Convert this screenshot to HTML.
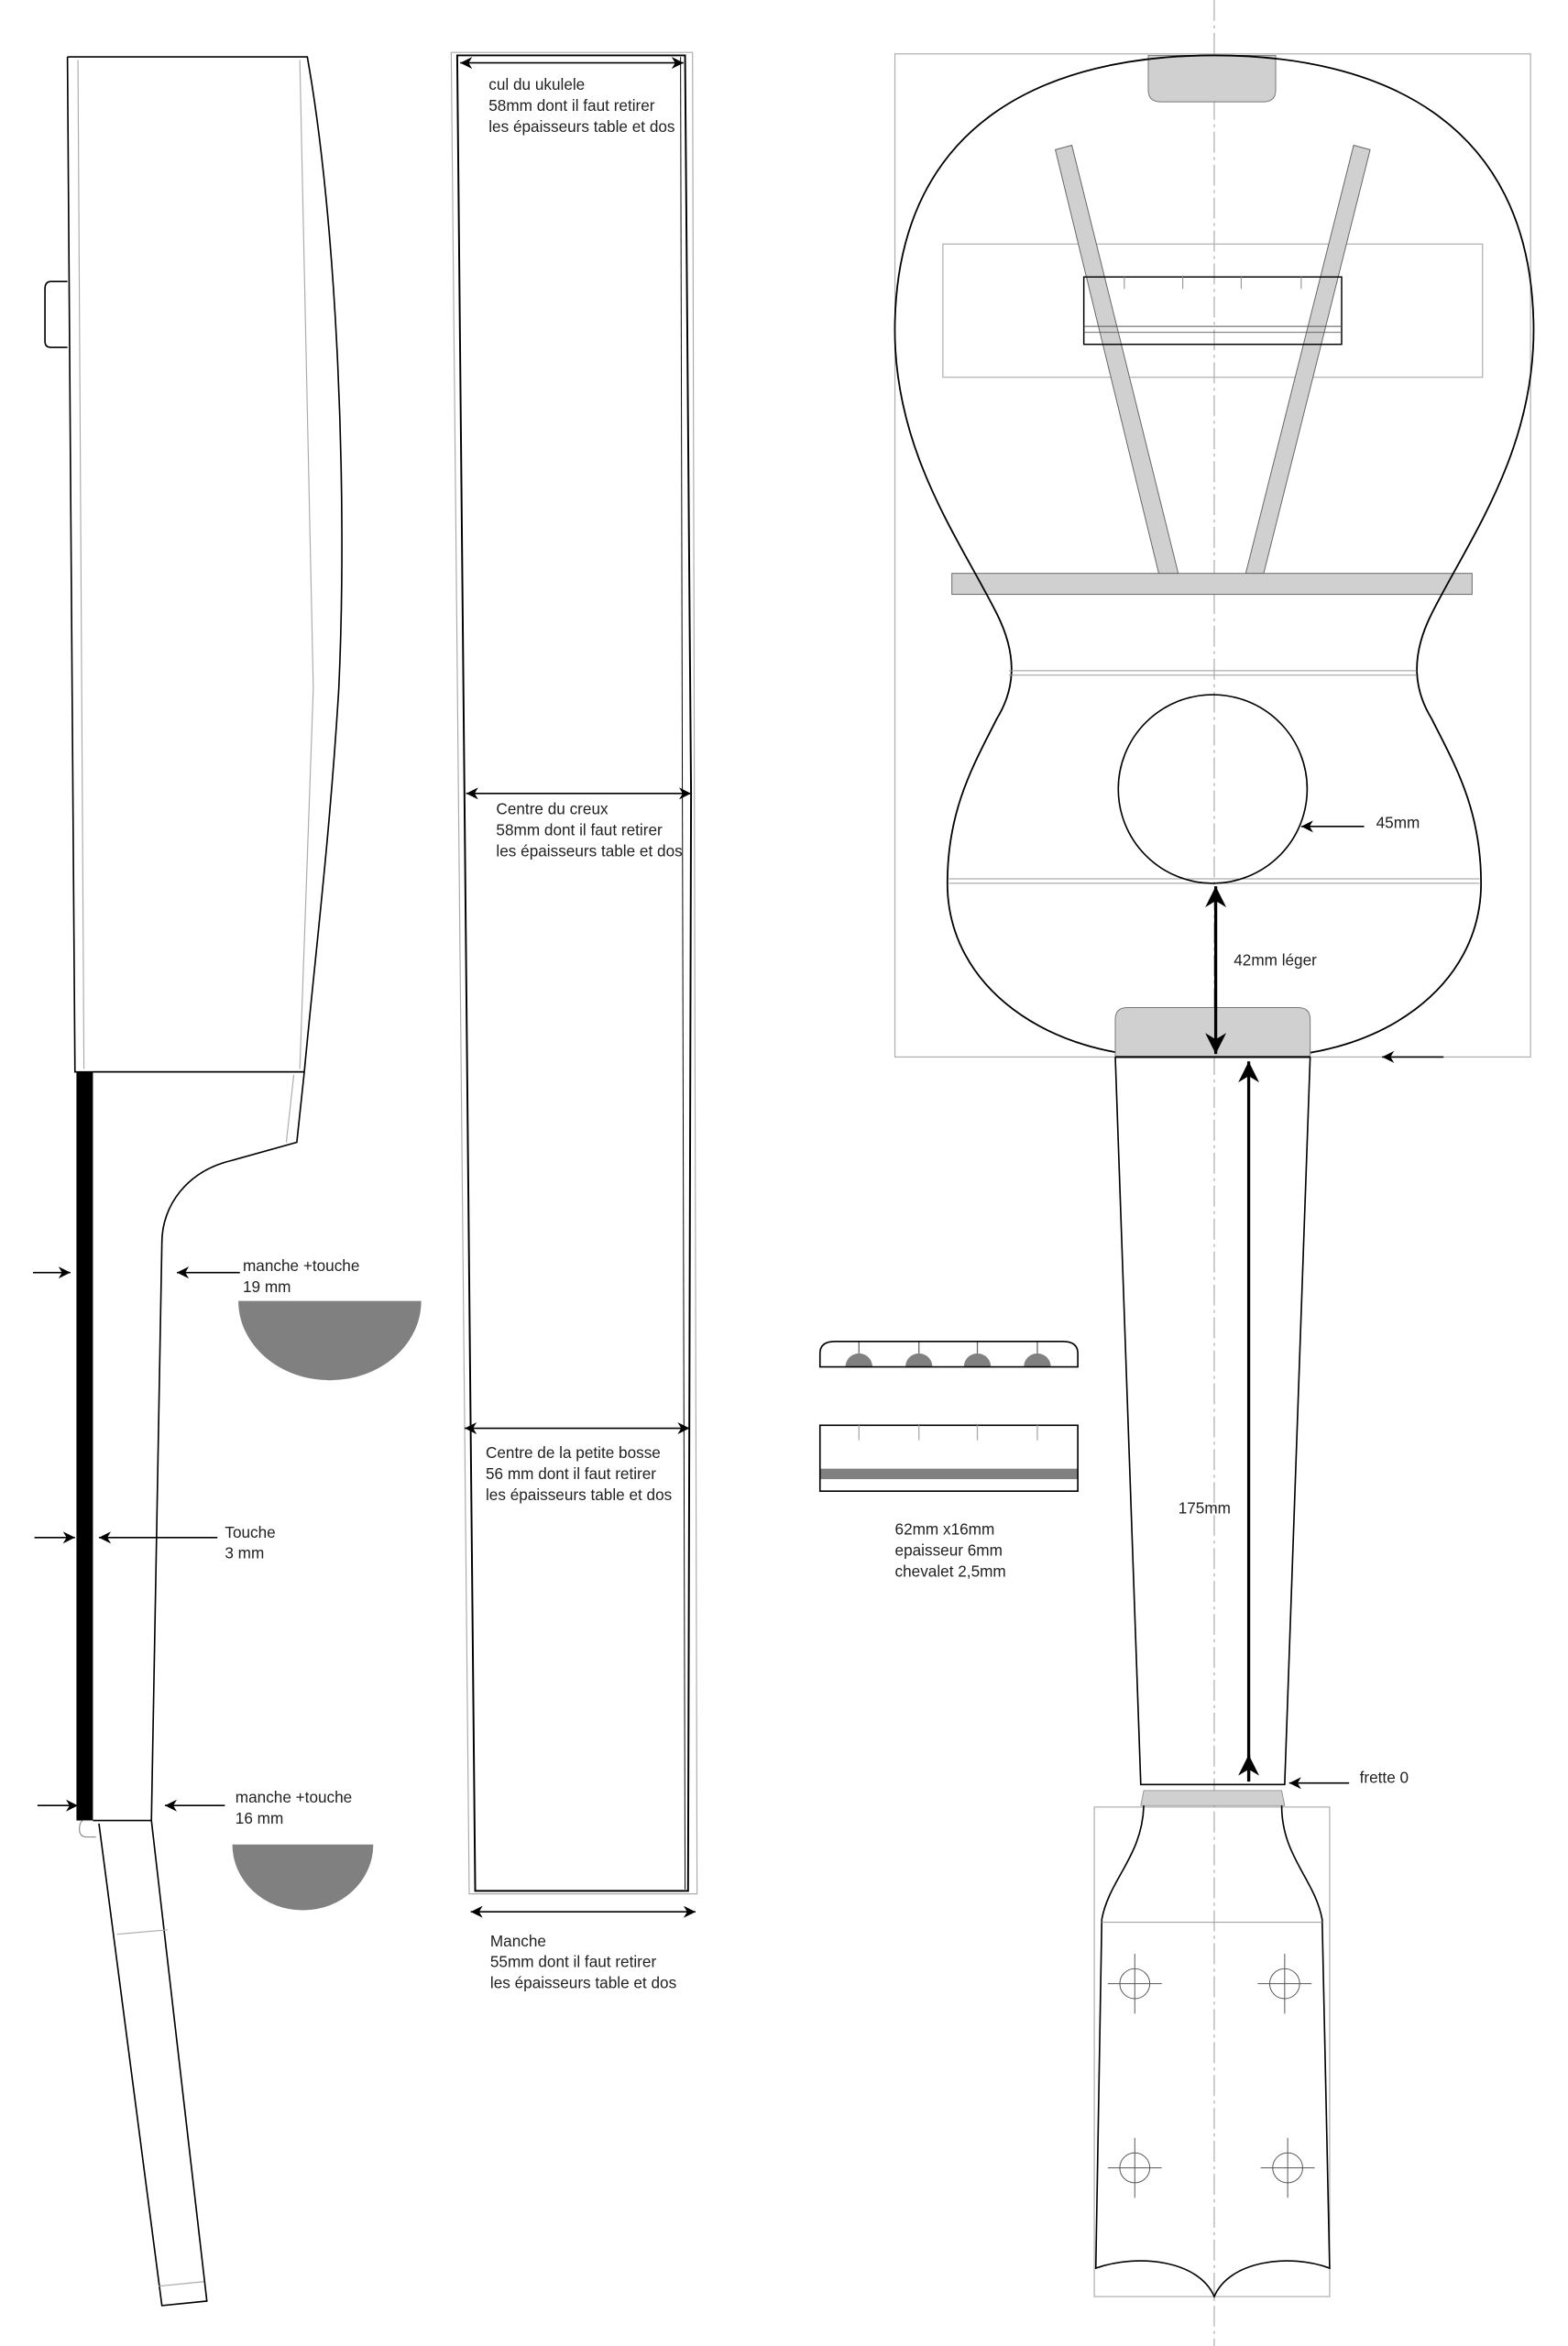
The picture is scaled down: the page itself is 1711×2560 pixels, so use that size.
<!DOCTYPE html>
<html><head><meta charset="utf-8"><style>
html,body{margin:0;padding:0;background:#fff;}
svg{display:block;}
text{font-family:"Liberation Sans",sans-serif;font-size:10.5px;fill:#222;}
</style></head><body>
<svg width="1711" height="2560" viewBox="0 0 1046 1567" preserveAspectRatio="none" xmlns="http://www.w3.org/2000/svg">
<defs>
<marker id="ah" viewBox="0 0 10 10" refX="10" refY="5" markerWidth="8" markerHeight="8" orient="auto-start-reverse" markerUnits="userSpaceOnUse"><path d="M0,0 L10,5 L0,10 L3,5 z" fill="#000"/></marker>
<marker id="ahb" viewBox="0 0 10 10" refX="10" refY="5" markerWidth="14" markerHeight="14" orient="auto-start-reverse" markerUnits="userSpaceOnUse"><path d="M0,0 L10,5 L0,10 L3,5 z" fill="#000"/></marker>
</defs>
<g fill="none" stroke="#000" stroke-width="1">
<!-- LEFT SIDE VIEW -->
<path d="M45,38 L205,38 C225,150 232,330 226,460 C220,560 210,640 203,716" />
<path d="M45,38 L50,716 L203,716" />
<line x1="52" y1="40" x2="56" y2="714" stroke="#aaa" stroke-width="0.7"/>
<line x1="200" y1="40" x2="209" y2="460" stroke="#aaa" stroke-width="0.7"/>
<line x1="209" y1="460" x2="200" y2="714" stroke="#aaa" stroke-width="0.7"/>
<path d="M45,188 L34,188 Q30,188 30,193 L30,228 Q30,232 34,232 L45,232" />
<rect x="51" y="716" width="11" height="500" fill="#000" stroke="none"/>
<path d="M203,716 L198,763 L155,775 C125,782 108,805 108,830 L101,1216 L62,1216" />
<line x1="62" y1="716" x2="203" y2="716"/>
<line x1="196" y1="718" x2="191" y2="763" stroke="#aaa" stroke-width="0.7"/>
<path d="M62,1216 L56,1216 Q53,1216 53,1222 Q53,1227 58,1227 L64,1227" stroke="#888" stroke-width="0.7"/>
<path d="M66,1218 L108,1540 L138,1537 L101,1216" />
<line x1="78" y1="1292" x2="112" y2="1289" stroke="#aaa" stroke-width="0.7"/>
<line x1="106" y1="1527" x2="136" y2="1524" stroke="#aaa" stroke-width="0.7"/>
<line x1="22" y1="850" x2="47" y2="850" marker-end="url(#ah)"/>
<line x1="160" y1="850" x2="118" y2="850" marker-end="url(#ah)"/>
<line x1="23" y1="1027" x2="50" y2="1027" marker-end="url(#ah)"/>
<line x1="145" y1="1027" x2="66" y2="1027" marker-end="url(#ah)"/>
<line x1="25" y1="1206" x2="52" y2="1206" marker-end="url(#ah)"/>
<line x1="150" y1="1206" x2="110" y2="1206" marker-end="url(#ah)"/>
<path d="M159,869 L281,869 A61,53 0 0 1 159,869 z" fill="#808080" stroke="none"/>
<path d="M155,1232 L249,1232 A47,44 0 0 1 155,1232 z" fill="#808080" stroke="none"/>

<!-- MIDDLE STRIP -->
<path d="M301,35 L462,35 L465,1265 L313,1265 z" stroke="#aaa" stroke-width="0.7"/>
<path d="M305,37 L457,37 L461,530 L459,1263 L317,1263 z" stroke-width="1.2"/>
<line x1="454" y1="38" x2="457" y2="1262" stroke="#000" stroke-width="0.6"/>
<line x1="307" y1="42" x2="456" y2="42" marker-start="url(#ah)" marker-end="url(#ah)"/>
<line x1="311" y1="530" x2="461" y2="530" marker-start="url(#ah)" marker-end="url(#ah)"/>
<line x1="310" y1="954" x2="460" y2="954" marker-start="url(#ah)" marker-end="url(#ah)"/>
<line x1="314" y1="1277" x2="464" y2="1277" marker-start="url(#ah)" marker-end="url(#ah)"/>

<!-- RIGHT BODY -->
<rect x="597" y="36" width="424" height="670" stroke="#aaa" stroke-width="0.7"/>
<line x1="810" y1="0" x2="810" y2="1567" stroke="#999" stroke-width="0.6" stroke-dasharray="14,3,2,3"/>
<rect x="629" y="163" width="360" height="89" stroke="#aaa" stroke-width="0.7"/>
<path d="M766,37 L851,37 L851,60 Q851,68 843,68 L774,68 Q766,68 766,60 z" fill="#d0d0d0" stroke="#777" stroke-width="0.6"/>
<polygon points="704,100 715,97 786,383 773,383" fill="#d0d0d0" stroke="#666" stroke-width="0.6"/>
<polygon points="903,97 914,100 843,383 831,383" fill="#d0d0d0" stroke="#666" stroke-width="0.6"/>
<rect x="635" y="383" width="347" height="14" fill="#d0d0d0" stroke="#666" stroke-width="0.6"/>
<rect x="723" y="185" width="172" height="45" stroke-width="0.9"/>
<line x1="723" y1="218" x2="895" y2="218" stroke="#555" stroke-width="0.6"/>
<line x1="723" y1="222" x2="895" y2="222" stroke="#555" stroke-width="0.6"/>
<g stroke="#999" stroke-width="0.7"><line x1="750" y1="185" x2="750" y2="193"/><line x1="789" y1="185" x2="789" y2="193"/><line x1="828" y1="185" x2="828" y2="193"/><line x1="868" y1="185" x2="868" y2="193"/></g>
<path d="M810,37 C700,37 600,80 597,215 C595,300 640,360 665,410 C680,440 676,462 665,480 C650,510 632,540 632,590 C632,660 700,706 780,706 L840,706 C920,706 988,660 988,590 C988,540 970,510 955,480 C944,462 940,440 955,410 C980,360 1025,300 1023,215 C1020,80 920,37 810,37 z" stroke-width="1.1"/>
<g stroke="#999" stroke-width="0.6"><line x1="673" y1="448" x2="945" y2="448"/><line x1="673" y1="451" x2="945" y2="451"/><line x1="633" y1="587" x2="987" y2="587"/><line x1="633" y1="590" x2="987" y2="590"/></g>
<circle cx="809" cy="527" r="63"/>
<line x1="910" y1="552" x2="868" y2="552" marker-end="url(#ah)"/>
<path d="M744,706 L744,681 Q744,673 752,673 L866,673 Q874,673 874,681 L874,706 z" fill="#d0d0d0" stroke="#777" stroke-width="0.6"/>
<line x1="744" y1="706" x2="874" y2="706" stroke-width="1.3"/>
<line x1="811" y1="592" x2="811" y2="704" stroke-width="2" marker-start="url(#ahb)" marker-end="url(#ahb)"/>
<line x1="963" y1="706" x2="922" y2="706" marker-end="url(#ah)"/>
<path d="M744,706 L761,1192 L857,1192 L874,706"/>
<line x1="833" y1="1189" x2="833" y2="709" stroke-width="2" marker-end="url(#ahb)"/>
<line x1="833" y1="1190" x2="833" y2="1172" stroke-width="2" marker-end="url(#ahb)"/>
<line x1="900" y1="1191" x2="860" y2="1191" marker-end="url(#ah)"/>
<polygon points="763,1196 855,1196 857,1206 761,1206" fill="#d0d0d0" stroke="#888" stroke-width="0.5"/>
<rect x="730" y="1207" width="157" height="327" stroke="#aaa" stroke-width="0.7"/>
<path d="M763,1206 C762,1240 740,1255 735,1282 L731,1515 C760,1505 800,1510 810,1534 C820,1510 860,1505 887,1515 L882,1282 C877,1255 855,1240 855,1206"/>
<line x1="735" y1="1284" x2="882" y2="1284" stroke="#999" stroke-width="0.6"/>
<g stroke="#555" stroke-width="0.6">
<circle cx="757" cy="1325" r="10"/><line x1="739" y1="1325" x2="775" y2="1325"/><line x1="757" y1="1305" x2="757" y2="1345"/>
<circle cx="857" cy="1325" r="10"/><line x1="839" y1="1325" x2="875" y2="1325"/><line x1="857" y1="1305" x2="857" y2="1345"/>
<circle cx="757" cy="1448" r="10"/><line x1="739" y1="1448" x2="775" y2="1448"/><line x1="757" y1="1428" x2="757" y2="1468"/>
<circle cx="859" cy="1448" r="10"/><line x1="841" y1="1448" x2="877" y2="1448"/><line x1="859" y1="1428" x2="859" y2="1468"/>
</g>

<!-- BRIDGE -->
<g fill="#808080" stroke="none">
<path d="M564,913 A9,9 0 0 1 582,913 z"/><path d="M604,913 A9,9 0 0 1 622,913 z"/><path d="M643,913 A9,9 0 0 1 661,913 z"/><path d="M683,913 A9,9 0 0 1 701,913 z"/>
</g>
<g stroke="#666" stroke-width="0.8"><line x1="573" y1="896" x2="573" y2="904"/><line x1="613" y1="896" x2="613" y2="904"/><line x1="652" y1="896" x2="652" y2="904"/><line x1="692" y1="896" x2="692" y2="904"/></g>
<path d="M547,913 L547,904 Q547,896 557,896 L709,896 Q719,896 719,904 L719,913 z"/>
<rect x="547" y="981" width="172" height="7" fill="#808080" stroke="none"/>
<rect x="547" y="952" width="172" height="44"/>
<g stroke="#aaa" stroke-width="0.8"><line x1="573" y1="952" x2="573" y2="962"/><line x1="613" y1="952" x2="613" y2="962"/><line x1="652" y1="952" x2="652" y2="962"/><line x1="692" y1="952" x2="692" y2="962"/></g>
</g>

<text x="162" y="849">manche +touche</text><text x="162" y="863">19 mm</text>
<text x="150" y="1027">Touche</text><text x="150" y="1041">3 mm</text>
<text x="157" y="1204">manche +touche</text><text x="157" y="1218">16 mm</text>
<text x="326" y="60">cul du ukulele</text><text x="326" y="74">58mm dont il faut retirer</text><text x="326" y="88">les épaisseurs table et dos</text>
<text x="331" y="544">Centre du creux</text><text x="331" y="558">58mm dont il faut retirer</text><text x="331" y="572">les épaisseurs table et dos</text>
<text x="324" y="974">Centre de la petite bosse</text><text x="324" y="988">56 mm dont il faut retirer</text><text x="324" y="1002">les épaisseurs table et dos</text>
<text x="327" y="1300">Manche</text><text x="327" y="1314">55mm dont il faut retirer</text><text x="327" y="1328">les épaisseurs table et dos</text>
<text x="597" y="1025">62mm x16mm</text><text x="597" y="1039">epaisseur 6mm</text><text x="597" y="1053">chevalet 2,5mm</text>
<text x="918" y="553">45mm</text>
<text x="823" y="645">42mm léger</text>
<text x="786" y="1011">175mm</text>
<text x="907" y="1191">frette 0</text>
</svg>
</body></html>
